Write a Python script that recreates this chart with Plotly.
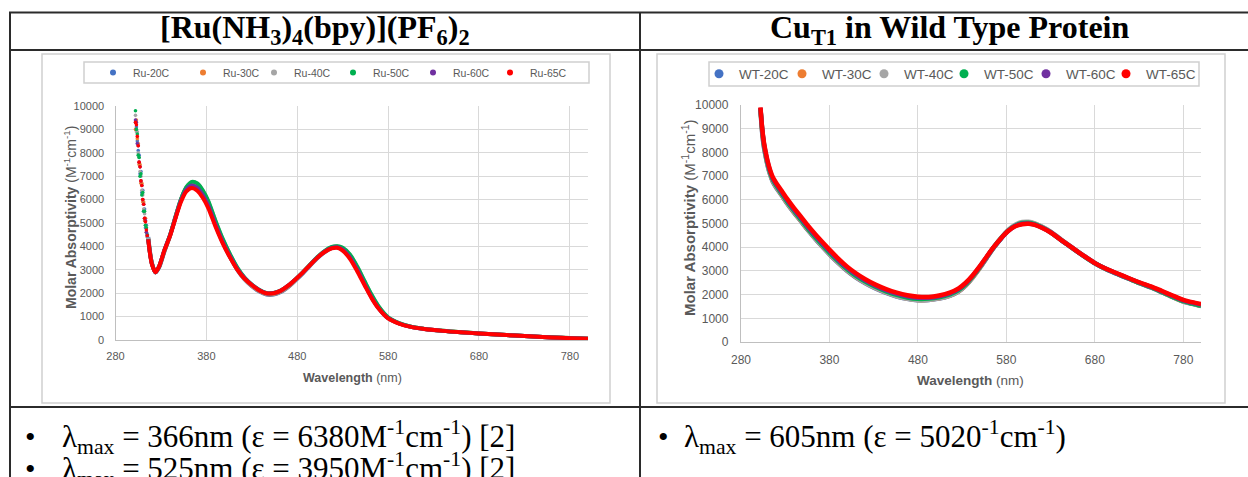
import plotly.graph_objects as go

W, H = 1248, 477

# ---------------- data ----------------
series_names_ru = ["Ru-20C", "Ru-30C", "Ru-40C", "Ru-50C", "Ru-60C", "Ru-65C"]
series_names_wt = ["WT-20C", "WT-30C", "WT-40C", "WT-50C", "WT-60C", "WT-65C"]
colors = ["#4472C4", "#ED7D31", "#A5A5A5", "#00B050", "#7030A0", "#FF0000"]

x_ticks = [280, 380, 480, 580, 680, 780]
y_ticks = [0, 1000, 2000, 3000, 4000, 5000, 6000, 7000, 8000, 9000, 10000]

# Ru complex: noisy steep UV edge (nm) and values per series
ru_steep_nm = [302, 303, 304, 305, 306, 307, 308, 309, 310, 311, 312, 313, 314, 315]
ru20_steep = [9300, 9100, 8500, 8100, 7900, 7100, 7200, 6300, 6400, 5500, 5600, 4800, 4900, 4500]
ru30_steep = [9000, 9400, 8600, 8400, 7500, 7500, 6700, 6700, 5900, 5900, 5100, 5200, 4600, 4400]
ru40_steep = [9600, 8900, 8900, 8000, 7800, 7200, 7000, 6400, 6200, 5600, 5400, 4900, 4800, 4400]
ru50_steep = [9800, 9000, 8800, 7900, 7800, 7000, 7100, 6200, 6300, 5500, 5500, 4900, 4800, 4500]
ru60_steep = [9400, 9300, 8400, 8300, 7600, 7400, 6800, 6600, 6000, 5800, 5200, 5100, 4600, 4450]
ru65_steep = [9300, 9200, 8700, 8300, 7600, 7400, 6800, 6600, 6000, 5800, 5200, 5050, 4700, 4450]

ru_nm = [316, 320, 324, 328, 334, 340, 346, 352, 358, 364,
         370, 376, 382, 390, 398, 406, 414, 422, 430, 438,
         446, 454, 462, 470, 478, 486, 494, 502, 510, 518,
         524, 530, 538, 546, 554, 562, 570, 580, 592, 605,
         620, 640, 660, 680, 700, 720, 740, 760, 780, 800]
ru20 = [4400, 3300, 2880, 3100, 3800, 4450, 5250, 6000, 6500, 6680,
        6560, 6220, 5760, 4920, 4170, 3540, 3000, 2590, 2300, 2080,
        1940, 1940, 2050, 2260, 2540, 2840, 3170, 3490, 3750, 3930,
        3960, 3860, 3530, 3010, 2400, 1830, 1350, 940, 710, 565,
        470, 390, 330, 280, 230, 190, 150, 110, 80, 50]
ru30 = [4350, 3280, 2890, 3120, 3820, 4450, 5230, 5980, 6480, 6690,
        6580, 6250, 5790, 4950, 4190, 3560, 3020, 2610, 2320, 2100,
        1960, 1960, 2070, 2280, 2560, 2860, 3190, 3510, 3770, 3950,
        3980, 3880, 3560, 3040, 2420, 1850, 1360, 945, 712, 566,
        472, 391, 331, 281, 231, 191, 151, 111, 81, 51]
ru40 = [4380, 3300, 2900, 3130, 3840, 4470, 5250, 6000, 6520, 6750,
        6680, 6380, 5920, 5080, 4300, 3650, 3080, 2650, 2350, 2130,
        1990, 1990, 2090, 2300, 2570, 2870, 3200, 3520, 3790, 3970,
        4010, 3930, 3630, 3120, 2500, 1900, 1400, 960, 720, 570,
        475, 392, 332, 282, 232, 192, 152, 112, 82, 52]
ru50 = [4320, 3270, 2900, 3140, 3850, 4480, 5260, 6010, 6530, 6760,
        6690, 6400, 5950, 5100, 4320, 3670, 3100, 2670, 2370, 2150,
        2010, 2010, 2110, 2320, 2590, 2890, 3220, 3540, 3800, 3975,
        4010, 3940, 3650, 3140, 2520, 1920, 1410, 965, 722, 571,
        476, 393, 333, 283, 233, 193, 153, 113, 83, 53]
ru60 = [4310, 3260, 2900, 3150, 3860, 4470, 5230, 5950, 6430, 6600,
        6500, 6200, 5760, 4950, 4200, 3580, 3040, 2640, 2360, 2140,
        2000, 2005, 2110, 2320, 2590, 2880, 3200, 3515, 3770, 3935,
        3960, 3860, 3530, 3010, 2390, 1810, 1340, 930, 705, 562,
        471, 390, 330, 280, 230, 190, 150, 110, 80, 50]
ru65 = [4300, 3250, 2900, 3150, 3850, 4450, 5200, 5900, 6350, 6500,
        6380, 6080, 5650, 4850, 4130, 3530, 3010, 2620, 2350, 2130,
        1995, 2000, 2110, 2320, 2590, 2880, 3200, 3510, 3760, 3920,
        3940, 3820, 3470, 2940, 2350, 1780, 1320, 920, 700, 560,
        470, 390, 330, 280, 230, 190, 150, 110, 80, 50]

# Cu T1 wild type protein
wt_nm = [302, 304, 306, 308, 310, 313, 316, 320, 326, 332,
         340, 348, 356, 364, 372, 380, 390, 400, 410, 420,
         432, 444, 456, 468, 480, 492, 504, 516, 526, 534,
         542, 550, 558, 566, 574, 582, 590, 598, 605, 612,
         620, 630, 642, 655, 668, 680, 692, 705, 718, 731,
         744, 756, 768, 780, 790, 800]
wt20 = [9800, 8800, 8200, 7800, 7450, 7050, 6750, 6500, 6180, 5850,
        5450, 5080, 4700, 4350, 4020, 3700, 3330, 3000, 2720, 2490,
        2260, 2070, 1920, 1820, 1760, 1770, 1830, 1950, 2130, 2380,
        2720, 3120, 3560, 3990, 4370, 4700, 4920, 5030, 5040, 4980,
        4850, 4640, 4300, 3950, 3610, 3320, 3080, 2870, 2670, 2470,
        2290, 2090, 1890, 1700, 1610, 1520]
wt30 = [9850, 8850, 8250, 7830, 7480, 7080, 6780, 6530, 6200, 5870,
        5470, 5100, 4720, 4370, 4040, 3720, 3350, 3020, 2740, 2510,
        2280, 2090, 1940, 1830, 1770, 1780, 1840, 1960, 2140, 2390,
        2730, 3130, 3570, 4000, 4380, 4710, 4930, 5040, 5050, 4990,
        4860, 4650, 4310, 3960, 3620, 3330, 3090, 2880, 2680, 2480,
        2300, 2100, 1900, 1710, 1620, 1530]
wt40 = [9880, 8900, 8280, 7860, 7500, 7100, 6800, 6550, 6220, 5890,
        5490, 5110, 4730, 4380, 4050, 3730, 3360, 3030, 2750, 2510,
        2280, 2090, 1930, 1820, 1760, 1770, 1840, 1960, 2150, 2400,
        2750, 3150, 3590, 4020, 4400, 4730, 4950, 5060, 5070, 5010,
        4870, 4660, 4320, 3970, 3630, 3340, 3100, 2880, 2680, 2490,
        2310, 2110, 1910, 1720, 1630, 1540]
wt50 = [9850, 8950, 8320, 7900, 7540, 7140, 6840, 6590, 6260, 5930,
        5530, 5150, 4770, 4420, 4090, 3770, 3400, 3070, 2790, 2560,
        2330, 2140, 1990, 1880, 1820, 1830, 1890, 2010, 2190, 2430,
        2770, 3160, 3590, 4010, 4380, 4700, 4910, 5020, 5030, 4970,
        4840, 4630, 4300, 3950, 3610, 3320, 3090, 2880, 2680, 2480,
        2300, 2100, 1900, 1720, 1620, 1530]
wt60 = [9880, 8980, 8360, 7950, 7600, 7200, 6900, 6650, 6320, 5990,
        5590, 5220, 4840, 4490, 4160, 3840, 3460, 3130, 2850, 2610,
        2380, 2190, 2040, 1930, 1870, 1870, 1930, 2050, 2230, 2470,
        2800, 3180, 3600, 4010, 4370, 4680, 4890, 4990, 5000, 4950,
        4830, 4630, 4300, 3960, 3620, 3330, 3100, 2890, 2690, 2500,
        2320, 2130, 1940, 1760, 1660, 1580]
wt65 = [9900, 9000, 8400, 8000, 7650, 7250, 6950, 6700, 6380, 6050,
        5650, 5280, 4900, 4550, 4220, 3900, 3520, 3180, 2900, 2660,
        2420, 2230, 2080, 1970, 1910, 1900, 1960, 2080, 2260, 2500,
        2820, 3200, 3620, 4020, 4380, 4680, 4880, 4970, 4990, 4940,
        4820, 4620, 4300, 3960, 3620, 3330, 3100, 2900, 2700, 2510,
        2340, 2150, 1960, 1780, 1680, 1600]

title_left = "<b>[Ru(NH<sub>3</sub>)<sub>4</sub>(bpy)](PF<sub>6</sub>)<sub>2</sub></b>"
title_right = "<b>Cu<sub>T1</sub> in Wild Type Protein</b>"
bullet_left_1 = "λ<sub>max</sub> = 366nm (ε = 6380M<sup>-1</sup>cm<sup>-1</sup>) [2]"
bullet_left_2 = "λ<sub>max</sub> = 525nm (ε = 3950M<sup>-1</sup>cm<sup>-1</sup>) [2]"
bullet_right_1 = "λ<sub>max</sub> = 605nm (ε = 5020<sup>-1</sup>cm<sup>-1</sup>)"

# ---------------- figure ----------------
def fx(p):
    return p / W

def fy(p):
    return 1 - p / H

fig = go.Figure()

ru_vals = [ru20, ru30, ru40, ru50, ru60, ru65]
ru_steep_vals = [ru20_steep, ru30_steep, ru40_steep, ru50_steep, ru60_steep, ru65_steep]
wt_vals = [wt20, wt30, wt40, wt50, wt60, wt65]

for name, col, st in zip(series_names_ru, colors, ru_steep_vals):
    fig.add_trace(go.Scatter(x=ru_steep_nm, y=st, mode="markers", showlegend=False,
                             marker=dict(color=col, size=3.6), xaxis="x", yaxis="y",
                             hoverinfo="skip"))
for name, col, vals in zip(series_names_ru, colors, ru_vals):
    fig.add_trace(go.Scatter(x=ru_nm, y=vals, mode="lines", showlegend=False, name=name,
                             line=dict(color=col, width=4, shape="spline", smoothing=0.8),
                             xaxis="x", yaxis="y"))
for name, col, vals in zip(series_names_wt, colors, wt_vals):
    fig.add_trace(go.Scatter(x=wt_nm, y=vals, mode="lines", showlegend=False, name=name,
                             line=dict(color=col, width=4.5, shape="spline", smoothing=0.8),
                             xaxis="x2", yaxis="y2"))

# legend entries: one legend box per entry so each can sit where the original has it
ru_legend_x = [93, 183, 254, 333, 413, 490]
wt_legend_x = [699, 782, 864, 944, 1026, 1106]
legend_layouts = {}
k = 1
for name, col, lx in zip(series_names_ru, colors, ru_legend_x):
    key = "legend" if k == 1 else f"legend{k}"
    fig.add_trace(go.Scatter(x=[None], y=[None], mode="markers", name=name, legend=key,
                             marker=dict(color=col, size=6), xaxis="x", yaxis="y"))
    legend_layouts[key] = dict(orientation="h", x=fx(lx), y=fy(72.5), xanchor="left",
                               yanchor="middle", bgcolor="rgba(0,0,0,0)", itemwidth=30,
                               font=dict(family="Liberation Sans, Arial", size=10.5, color="#595959"))
    k += 1
for name, col, lx in zip(series_names_wt, colors, wt_legend_x):
    key = f"legend{k}"
    fig.add_trace(go.Scatter(x=[None], y=[None], mode="markers", name=name, legend=key,
                             marker=dict(color=col, size=9), xaxis="x2", yaxis="y2"))
    legend_layouts[key] = dict(orientation="h", x=fx(lx), y=fy(74), xanchor="left",
                               yanchor="middle", bgcolor="rgba(0,0,0,0)", itemwidth=30,
                               font=dict(family="Liberation Sans, Arial", size=13.5, color="#595959"))
    k += 1

axis_common = dict(showgrid=True, gridcolor="#d9d9d9", gridwidth=1, zeroline=False,
                   showline=True, linecolor="#bfbfbf", linewidth=1.3,
                   tickfont=dict(family="Liberation Sans, Arial", color="#595959"),
                   tickformat="d", fixedrange=True)

fig.update_layout(
    width=W, height=H, margin=dict(l=0, r=0, t=0, b=0, autoexpand=False),
    paper_bgcolor="white", plot_bgcolor="white",
    xaxis=dict(domain=[fx(115.5), fx(588)], range=[280, 800], tickvals=x_ticks,
               anchor="y", ticklabelstandoff=6, tickfont_size=11, **axis_common),
    yaxis=dict(domain=[fy(340), fy(106)], range=[0, 10000], tickvals=y_ticks,
               anchor="x", ticklabelstandoff=8, tickfont_size=11, **axis_common),
    xaxis2=dict(domain=[fx(741), fx(1201)], range=[280, 800], tickvals=x_ticks,
                anchor="y2", ticklabelstandoff=6, tickfont_size=12, **axis_common),
    yaxis2=dict(domain=[fy(342), fy(105)], range=[0, 10000], tickvals=y_ticks,
                anchor="x2", ticklabelstandoff=9, tickfont_size=12, **axis_common),
    **legend_layouts,
)

line_col = "#2b2b2b"
shapes = [
    # table lines
    dict(type="line", x0=fx(9), x1=1.0, y0=fy(12.5), y1=fy(12.5)),
    dict(type="line", x0=fx(9), x1=1.0, y0=fy(50), y1=fy(50)),
    dict(type="line", x0=fx(9), x1=1.0, y0=fy(407), y1=fy(407)),
    dict(type="line", x0=fx(10), x1=fx(10), y0=fy(12), y1=0),
    dict(type="line", x0=fx(640), x1=fx(640), y0=fy(12), y1=0),
]
for s in shapes:
    s.update(xref="paper", yref="paper", line=dict(color=line_col, width=2))
frames = [
    dict(type="rect", x0=fx(42), x1=fx(610), y0=fy(403), y1=fy(54)),
    dict(type="rect", x0=fx(657), x1=fx(1225), y0=fy(403), y1=fy(54)),
    dict(type="rect", x0=fx(84), x1=fx(589), y0=fy(83), y1=fy(62)),
    dict(type="rect", x0=fx(709), x1=fx(1199), y0=fy(86), y1=fy(62)),
]
for s in frames:
    s.update(xref="paper", yref="paper", line=dict(color="#d0d0d0", width=1.5),
             fillcolor="rgba(0,0,0,0)", layer="below")
fig.update_layout(shapes=shapes + frames)

serif = "Liberation Serif, Times New Roman, serif"
sans = "Liberation Sans, Arial, sans-serif"
ann = []
ann.append(dict(text=title_left, x=fx(315), y=fy(30), font=dict(family=serif, size=32, color="black")))
ann.append(dict(text=title_right, x=fx(949), y=fy(30), font=dict(family=serif, size=32, color="black")))
ann.append(dict(text="•", x=fx(31), y=fy(436), font=dict(family=serif, size=30, color="black")))
ann.append(dict(text="•", x=fx(31), y=fy(468), font=dict(family=serif, size=30, color="black")))
ann.append(dict(text="•", x=fx(663), y=fy(436), font=dict(family=serif, size=30, color="black")))
ann.append(dict(text=bullet_left_1, x=fx(60), y=fy(437), xanchor="left",
                font=dict(family=serif, size=31, color="black")))
ann.append(dict(text=bullet_left_2, x=fx(60), y=fy(469), xanchor="left",
                font=dict(family=serif, size=31, color="black")))
ann.append(dict(text=bullet_right_1, x=fx(682), y=fy(437), xanchor="left",
                font=dict(family=serif, size=31, color="black")))
ann.append(dict(text="<b>Molar Absorptivity</b> (M<sup>-1</sup>cm<sup>-1</sup>)", x=fx(70), y=fy(218),
                textangle=-90, font=dict(family=sans, size=14, color="#595959")))
ann.append(dict(text="<b>Molar Absorptivity</b> (M<sup>-1</sup>cm<sup>-1</sup>)", x=fx(688), y=fy(218),
                textangle=-90, font=dict(family=sans, size=15, color="#595959")))
ann.append(dict(text="<b>Wavelength</b> (nm)", x=fx(352), y=fy(378),
                font=dict(family=sans, size=12.5, color="#595959")))
ann.append(dict(text="<b>Wavelength</b> (nm)", x=fx(970), y=fy(380),
                font=dict(family=sans, size=13.5, color="#595959")))
for a in ann:
    a.setdefault("xanchor", "center")
    a.update(xref="paper", yref="paper", yanchor="middle", showarrow=False)
fig.update_layout(annotations=ann)

fig.write_html("out.html")
